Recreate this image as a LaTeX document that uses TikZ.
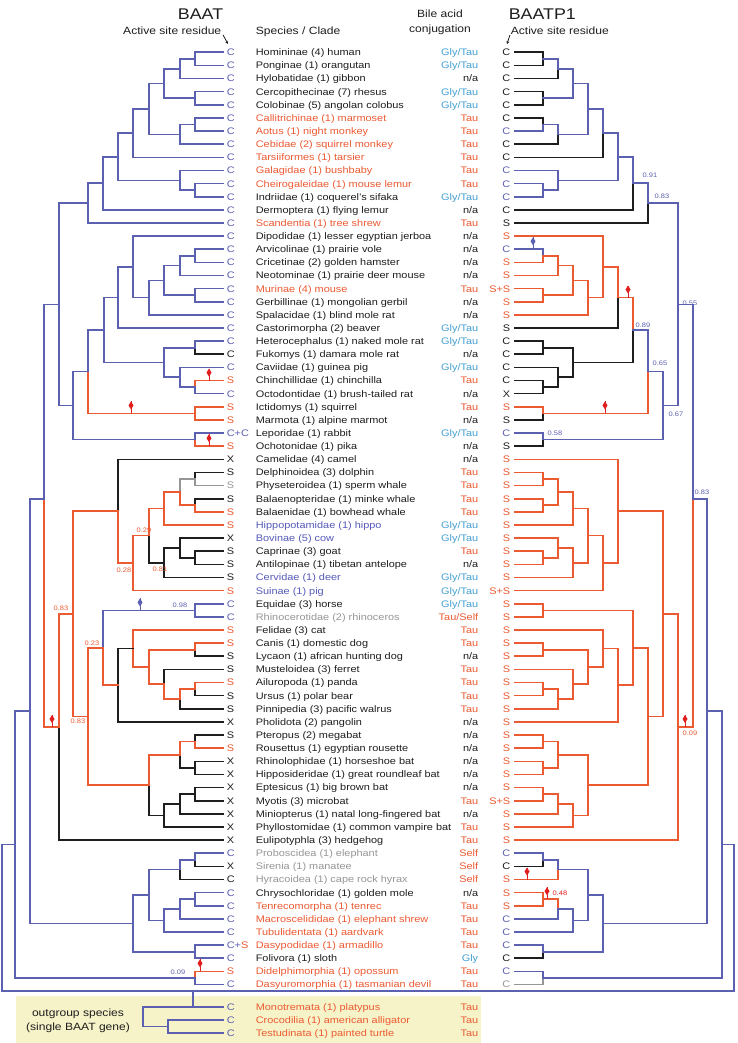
\documentclass[tikz,border=0pt]{standalone}
\usepackage{fontspec}
\setmainfont{Liberation Sans}[FakeStretch=1.15]
\usetikzlibrary{calc,arrows.meta}
\definecolor{bl}{RGB}{92,96,176}
\definecolor{og}{RGB}{236,90,50}
\definecolor{bk}{RGB}{30,30,30}
\definecolor{gy}{RGB}{150,150,150}
\definecolor{cy}{RGB}{70,160,210}
\definecolor{pu}{RGB}{85,90,185}
\definecolor{rd}{RGB}{225,30,30}
\definecolor{yb}{RGB}{246,243,200}
\newcommand\colB[1]{\textcolor{bl}{#1}}
\newcommand\colO[1]{\textcolor{og}{#1}}
\newcommand\colG[1]{\textcolor{gy}{#1}}
\newcommand\colY[1]{\textcolor{cy}{#1}}
\newcommand\colP[1]{\textcolor{pu}{#1}}
\newcommand\row[5]{%
\coordinate (L#1) at (223,{52.3+13.13*(#1-1)});
\coordinate (R#1) at (515,{52.3+13.13*(#1-1)});
\node[tx,anchor=base west] (lr#1) at (226,{55.7+13.13*(#1-1)}) {#2};
\node[tx,anchor=base west] (sp#1) at (255,{55.7+13.13*(#1-1)}) {#3};
\node[tx,anchor=base east] (ba#1) at (479,{55.7+13.13*(#1-1)}) {#4};
\node[tx,anchor=base east] (rr#1) at (511,{55.7+13.13*(#1-1)}) {#5};}
\newcommand\nd[6]{\path let \p1=(#3), \p2=(#5) in coordinate (#1) at (#2,{0.5*(\y1+\y2)});
\draw[#4] (#1) |- (#3); \draw[#6] (#1) |- (#5);}
\newcommand\ndy[7]{\coordinate (#1) at (#2,#3);
\draw[#5] (#1) |- (#4); \draw[#7] (#1) |- (#6);}
\newcommand\mk[3]{\fill[#1] ({#2},{#3-12}) -- ({#2+2.5},{#3-8}) -- ({#2},{#3-4}) -- ({#2-2.5},{#3-8}) -- cycle;
\draw[#1,line width=0.9pt,line cap=butt] ({#2},{#3-12}) -- ({#2},{#3});}
\begin{document}
\begin{tikzpicture}[x=1pt,y=-1pt,line width=1.6pt,line cap=rect,
 tx/.style={inner sep=0pt,text=bk,font=\fontsize{9.5}{11}\selectfont},
 hd/.style={inner sep=0pt,text=bk,font=\fontsize{10.5}{12}\selectfont},
 big/.style={inner sep=0pt,text=bk,font=\fontsize{15.5}{18}\selectfont},
 sup/.style={inner sep=0pt,font=\fontsize{6.5}{7}\selectfont}]
\fill[white] (0,0) rectangle (737,1043);
\useasboundingbox (0,0) rectangle (737,1043);
\fill[yb] (16,996) rectangle (481,1043);
% headers
\node[big,anchor=base east] (hBAAT) at (224,20) {BAAT};
\node[hd,anchor=base east] (hAct) at (222,35) {Active site residue};
\node[hd,anchor=base west] (hSp) at (255,35) {Species / Clade};
\node[hd,anchor=base] (hBile) at (440,18) {Bile acid};
\node[hd,anchor=base] (hConj) at (440,33) {conjugation};
\node[big,anchor=base west] (hP1) at (508,20) {BAATP1};
\node[hd,anchor=base west] (hAct2) at (510,35) {Active site residue};
\draw[bk,line width=0.8pt,line cap=butt,-{Stealth[length=3pt,width=3pt]}] (hAct.south east) ++(1,-1) -- (228,44);
\draw[bk,line width=0.8pt,line cap=butt,-{Stealth[length=3pt,width=3pt]}] (hAct2.south west) ++(0,-1) -- (507,44);
% rows
\row{1}{\colB{C}}{Homininae (4) human}{\colY{Gly/Tau}}{C}
\row{2}{\colB{C}}{Ponginae (1) orangutan}{\colY{Gly/Tau}}{C}
\row{3}{\colB{C}}{Hylobatidae (1) gibbon}{n/a}{C}
\row{4}{\colB{C}}{Cercopithecinae (7) rhesus}{\colY{Gly/Tau}}{C}
\row{5}{\colB{C}}{Colobinae (5) angolan colobus}{\colY{Gly/Tau}}{C}
\row{6}{\colB{C}}{\colO{Callitrichinae (1) marmoset}}{\colO{Tau}}{C}
\row{7}{\colB{C}}{\colO{Aotus (1) night monkey}}{\colO{Tau}}{\colB{C}}
\row{8}{\colB{C}}{\colO{Cebidae (2) squirrel monkey}}{\colO{Tau}}{C}
\row{9}{\colB{C}}{\colO{Tarsiiformes (1) tarsier}}{\colO{Tau}}{C}
\row{10}{\colB{C}}{\colO{Galagidae (1) bushbaby}}{\colO{Tau}}{\colB{C}}
\row{11}{\colB{C}}{\colO{Cheirogaleidae (1) mouse lemur}}{\colO{Tau}}{\colB{C}}
\row{12}{\colB{C}}{Indriidae (1) coquerel's sifaka}{\colY{Gly/Tau}}{\colB{C}}
\row{13}{\colB{C}}{Dermoptera (1) flying lemur}{n/a}{C}
\row{14}{\colB{C}}{\colO{Scandentia (1) tree shrew}}{\colO{Tau}}{S}
\row{15}{\colB{C}}{Dipodidae (1) lesser egyptian jerboa}{n/a}{\colO{S}}
\row{16}{\colB{C}}{Arvicolinae (1) prairie vole}{n/a}{\colB{C}}
\row{17}{\colB{C}}{Cricetinae (2) golden hamster}{n/a}{\colO{S}}
\row{18}{\colB{C}}{Neotominae (1) prairie deer mouse}{n/a}{\colO{S}}
\row{19}{\colB{C}}{\colO{Murinae (4) mouse}}{\colO{Tau}}{\colO{S+S}}
\row{20}{\colB{C}}{Gerbillinae (1) mongolian gerbil}{n/a}{\colO{S}}
\row{21}{\colB{C}}{Spalacidae (1) blind mole rat}{n/a}{\colO{S}}
\row{22}{\colB{C}}{Castorimorpha (2) beaver}{\colY{Gly/Tau}}{S}
\row{23}{\colB{C}}{Heterocephalus (1) naked mole rat}{\colY{Gly/Tau}}{C}
\row{24}{C}{Fukomys (1) damara mole rat}{n/a}{C}
\row{25}{\colB{C}}{Caviidae (1) guinea pig}{\colY{Gly/Tau}}{C}
\row{26}{\colO{S}}{Chinchillidae (1) chinchilla}{\colO{Tau}}{C}
\row{27}{\colB{C}}{Octodontidae (1) brush-tailed rat}{n/a}{X}
\row{28}{\colO{S}}{Ictidomys (1) squirrel}{\colO{Tau}}{\colO{S}}
\row{29}{\colO{S}}{Marmota (1) alpine marmot}{n/a}{S}
\row{30}{\colB{C+C}}{Leporidae (1) rabbit}{\colY{Gly/Tau}}{\colB{C}}
\row{31}{\colO{S}}{Ochotonidae (1) pika}{n/a}{S}
\row{32}{X}{Camelidae (4) camel}{n/a}{\colO{S}}
\row{33}{S}{Delphinoidea (3) dolphin}{\colO{Tau}}{\colO{S}}
\row{34}{\colG{S}}{Physeteroidea (1) sperm whale}{\colO{Tau}}{\colO{S}}
\row{35}{S}{Balaenopteridae (1) minke whale}{\colO{Tau}}{\colO{S}}
\row{36}{\colO{S}}{Balaenidae (1) bowhead whale}{\colO{Tau}}{\colO{S}}
\row{37}{\colO{S}}{\colP{Hippopotamidae (1) hippo}}{\colY{Gly/Tau}}{\colO{S}}
\row{38}{X}{\colP{Bovinae (5) cow}}{\colY{Gly/Tau}}{\colO{S}}
\row{39}{S}{Caprinae (3) goat}{\colO{Tau}}{\colO{S}}
\row{40}{S}{Antilopinae (1) tibetan antelope}{n/a}{\colO{S}}
\row{41}{S}{\colP{Cervidae (1) deer}}{\colY{Gly/Tau}}{\colO{S}}
\row{42}{\colO{S}}{\colP{Suinae (1) pig}}{\colY{Gly/Tau}}{\colO{S+S}}
\row{43}{\colB{C}}{Equidae (3) horse}{\colY{Gly/Tau}}{\colO{S}}
\row{44}{\colB{C}}{\colG{Rhinocerotidae (2) rhinoceros}}{\colO{Tau/Self}}{\colO{S}}
\row{45}{\colO{S}}{Felidae (3) cat}{\colO{Tau}}{\colO{S}}
\row{46}{\colO{S}}{Canis (1) domestic dog}{\colO{Tau}}{\colO{S}}
\row{47}{S}{Lycaon (1) african hunting dog}{n/a}{\colO{S}}
\row{48}{S}{Musteloidea (3) ferret}{\colO{Tau}}{\colO{S}}
\row{49}{\colO{S}}{Ailuropoda (1) panda}{\colO{Tau}}{\colO{S}}
\row{50}{S}{Ursus (1) polar bear}{\colO{Tau}}{\colO{S}}
\row{51}{S}{Pinnipedia (3) pacific walrus}{\colO{Tau}}{\colO{S}}
\row{52}{X}{Pholidota (2) pangolin}{n/a}{\colO{S}}
\row{53}{S}{Pteropus (2) megabat}{n/a}{\colO{S}}
\row{54}{\colO{S}}{Rousettus (1) egyptian rousette}{n/a}{\colO{S}}
\row{55}{X}{Rhinolophidae (1) horseshoe bat}{n/a}{\colO{S}}
\row{56}{X}{Hipposideridae (1) great roundleaf bat}{n/a}{\colO{S}}
\row{57}{X}{Eptesicus (1) big brown bat}{n/a}{\colO{S}}
\row{58}{X}{Myotis (3) microbat}{\colO{Tau}}{\colO{S+S}}
\row{59}{X}{Miniopterus (1) natal long-fingered bat}{n/a}{\colO{S}}
\row{60}{X}{Phyllostomidae (1) common vampire bat}{\colO{Tau}}{\colO{S}}
\row{61}{X}{Eulipotyphla (3) hedgehog}{\colO{Tau}}{\colO{S}}
\row{62}{\colB{C}}{\colG{Proboscidea (1) elephant}}{\colO{Self}}{\colB{C}}
\row{63}{X}{\colG{Sirenia (1) manatee}}{\colO{Self}}{C}
\row{64}{C}{\colG{Hyracoidea (1) cape rock hyrax}}{\colO{Self}}{\colO{S}}
\row{65}{\colB{C}}{Chrysochloridae (1) golden mole}{n/a}{\colO{S}}
\row{66}{\colB{C}}{\colO{Tenrecomorpha (1) tenrec}}{\colO{Tau}}{\colO{S}}
\row{67}{\colB{C}}{\colO{Macroscelididae (1) elephant shrew}}{\colO{Tau}}{\colB{C}}
\row{68}{\colB{C}}{\colO{Tubulidentata (1) aardvark}}{\colO{Tau}}{\colB{C}}
\row{69}{\colB{C+}\colO{S}}{\colO{Dasypodidae (1) armadillo}}{\colO{Tau}}{\colB{C}}
\row{70}{\colB{C}}{Folivora (1) sloth}{\colY{Gly}}{C}
\row{71}{\colO{S}}{\colO{Didelphimorphia (1) opossum}}{\colO{Tau}}{\colB{C}}
\row{72}{\colB{C}}{\colO{Dasyuromorphia (1) tasmanian devil}}{\colO{Tau}}{\colG{C}}
% outgroup rows
\coordinate (O1) at (223,1007); \coordinate (O2) at (223,1020); \coordinate (O3) at (223,1033);
\node[tx,anchor=base west] (olr1) at (226,1010.4) {\colB{C}};
\node[tx,anchor=base west] (olr2) at (226,1023.4) {\colB{C}};
\node[tx,anchor=base west] (olr3) at (226,1036.4) {\colB{C}};
\node[tx,anchor=base west] (osp1) at (255,1010.4) {\colO{Monotremata (1) platypus}};
\node[tx,anchor=base west] (osp2) at (255,1023.4) {\colO{Crocodilia (1) american alligator}};
\node[tx,anchor=base west] (osp3) at (255,1036.4) {\colO{Testudinata (1) painted turtle}};
\node[tx,anchor=base east] (oba1) at (479,1010.4) {\colO{Tau}};
\node[tx,anchor=base east] (oba2) at (479,1023.4) {\colO{Tau}};
\node[tx,anchor=base east] (oba3) at (479,1036.4) {\colO{Tau}};
\node[hd,anchor=base] (ogt1) at (78,1016) {outgroup species};
\node[hd,anchor=base] (ogt2) at (78,1030) {(single BAAT gene)};
% ---------- left tree (BAAT)
\nd{p12}{195}{L1}{bl}{L2}{bl}
\nd{p123}{180}{p12}{bl}{L3}{bl}
\nd{p45}{195}{L4}{bl}{L5}{bl}
\nd{pCat}{164}{p123}{bl}{p45}{bl}
\nd{p67}{195}{L6}{bl}{L7}{bl}
\nd{p678}{180}{p67}{bl}{L8}{bl}
\nd{pAnth}{149}{pCat}{bl}{p678}{bl}
\nd{pHap}{133}{pAnth}{bl}{L9}{bl}
\nd{p1112}{195}{L11}{bl}{L12}{bl}
\nd{pStr}{180}{L10}{bl}{p1112}{bl}
\nd{pPri}{118}{pHap}{bl}{pStr}{bl}
\nd{pPD}{103}{pPri}{bl}{L13}{bl}
\nd{pEua}{88}{pPD}{bl}{L14}{bl}
\nd{r1617}{195}{L16}{bl}{L17}{bl}
\nd{r18}{180}{r1617}{bl}{L18}{bl}
\nd{r1920}{195}{L19}{bl}{L20}{bl}
\nd{r1620}{164}{r18}{bl}{r1920}{bl}
\nd{r21}{149}{r1620}{bl}{L21}{bl}
\nd{r15}{133}{L15}{bl}{r21}{bl}
\nd{r22}{118}{r15}{bl}{L22}{bl}
\nd{r2324}{195}{L23}{bl}{L24}{bk}
\nd{r2627}{195}{L26}{og}{L27}{bl}
\nd{r25}{180}{L25}{bl}{r2627}{bl}
\nd{r2327}{164}{r2324}{bl}{r25}{bl}
\nd{rMur}{104}{r22}{bl}{r2327}{bl}
\nd{r2829}{195}{L28}{og}{L29}{og}
\nd{rRod}{88}{rMur}{bl}{r2829}{og}
\nd{r3031}{195}{L30}{bl}{L31}{og}
\nd{pGli}{73}{rRod}{bl}{r3031}{bl}
\nd{pEuA}{59}{pEua}{bl}{pGli}{bl}
\nd{l3334}{195}{L33}{bk}{L34}{gy}
\nd{l3536}{195}{L35}{bk}{L36}{og}
\nd{l3336}{180}{l3334}{gy}{l3536}{og}
\nd{l3637}{164}{l3336}{og}{L37}{og}
\nd{l3940}{195}{L39}{bk}{L40}{bk}
\nd{l3840}{180}{L38}{bk}{l3940}{bk}
\nd{l3841}{164}{l3840}{bk}{L41}{bk}
\nd{l3341}{149}{l3637}{og}{l3841}{bk}
\nd{l3342}{133}{l3341}{og}{L42}{og}
\nd{l3242}{118}{L32}{bk}{l3342}{og}
\nd{l4344}{195}{L43}{bl}{L44}{bl}
\nd{l4647}{195}{L46}{og}{L47}{bk}
\nd{l4950}{195}{L49}{og}{L50}{bk}
\nd{l4951}{180}{l4950}{og}{L51}{bk}
\nd{l4851}{164}{L48}{bk}{l4951}{og}
\nd{l4651}{149}{l4647}{og}{l4851}{og}
\nd{l4551}{133}{L45}{og}{l4651}{og}
\nd{l4552}{118}{l4551}{bk}{L52}{bk}
\nd{lPF}{103}{l4344}{bl}{l4552}{og}
\nd{l5354}{195}{L53}{bk}{L54}{og}
\nd{l5556}{195}{L55}{bk}{L56}{bk}
\nd{l5356}{180}{l5354}{og}{l5556}{bk}
\nd{l5758}{195}{L57}{bk}{L58}{bk}
\nd{l5759}{180}{l5758}{bk}{L59}{bk}
\nd{l5760}{164}{l5759}{bk}{L60}{bk}
\nd{lChi}{149}{l5356}{og}{l5760}{bk}
\nd{lScr}{88}{lPF}{og}{lChi}{og}
\nd{lLc}{73}{l3242}{og}{lScr}{og}
\nd{lLau}{59}{lLc}{og}{L61}{bk}
\ndy{lBor}{44}{499}{pEuA}{bl}{lLau}{og}
\nd{a6263}{195}{L62}{bl}{L63}{bk}
\nd{a6264}{180}{a6263}{bl}{L64}{bk}
\nd{a6566}{195}{L65}{bl}{L66}{bl}
\nd{a6567}{180}{a6566}{bl}{L67}{bl}
\nd{a6568}{164}{a6567}{bl}{L68}{bl}
\nd{aAfr}{149}{a6264}{bl}{a6568}{bl}
\nd{a6970}{195}{L69}{bl}{L70}{bl}
\nd{aAtl}{133}{aAfr}{bl}{a6970}{bl}
\nd{lEut}{30}{lBor}{bl}{aAtl}{bl}
\nd{m7172}{195}{L71}{og}{L72}{bl}
\nd{lThe}{15}{lEut}{bl}{m7172}{bl}
% ---------- right tree (BAATP1)
\nd{q12}{543}{R1}{bk}{R2}{bk}
\nd{q123}{558}{q12}{bl}{R3}{bk}
\nd{q45}{543}{R4}{bk}{R5}{bk}
\nd{qCat}{573}{q123}{bl}{q45}{bl}
\nd{q67}{543}{R6}{bk}{R7}{bl}
\nd{q678}{558}{q67}{bl}{R8}{bk}
\nd{qAnth}{588}{qCat}{bl}{q678}{bl}
\nd{qHap}{603}{qAnth}{bl}{R9}{bk}
\nd{q1112}{543}{R11}{bl}{R12}{bl}
\nd{qStr}{558}{R10}{bl}{q1112}{bl}
\nd{qPri}{618}{qHap}{bl}{qStr}{bl}
\nd{qPD}{633}{qPri}{bl}{R13}{bk}
\nd{qEua}{648}{qPD}{bl}{R14}{bk}
\nd{s1617}{543}{R16}{bl}{R17}{og}
\nd{s18}{558}{s1617}{og}{R18}{og}
\nd{s1920}{543}{R19}{og}{R20}{og}
\nd{s1620}{573}{s18}{og}{s1920}{og}
\nd{s21}{588}{s1620}{og}{R21}{og}
\nd{s15}{603}{R15}{og}{s21}{og}
\nd{s22}{618}{s15}{og}{R22}{bk}
\nd{s2324}{543}{R23}{bk}{R24}{bk}
\nd{s2627}{543}{R26}{bk}{R27}{bk}
\nd{s25}{558}{R25}{bk}{s2627}{bk}
\nd{s2327}{573}{s2324}{bk}{s25}{bk}
\nd{sMur}{633}{s22}{og}{s2327}{bk}
\nd{s2829}{543}{R28}{og}{R29}{bk}
\nd{sRod}{648}{sMur}{bl}{s2829}{og}
\nd{s3031}{543}{R30}{bl}{R31}{bk}
\nd{sGli}{663}{sRod}{bl}{s3031}{bl}
\nd{sEuA}{678}{qEua}{bl}{sGli}{bl}
\nd{t3334}{543}{R33}{og}{R34}{og}
\nd{t3536}{543}{R35}{og}{R36}{og}
\nd{t3336}{558}{t3334}{og}{t3536}{og}
\nd{t3637}{573}{t3336}{og}{R37}{og}
\nd{t3940}{543}{R39}{og}{R40}{og}
\nd{t3840}{558}{R38}{og}{t3940}{og}
\nd{t3841}{573}{t3840}{og}{R41}{og}
\nd{t3341}{588}{t3637}{og}{t3841}{og}
\nd{t3342}{603}{t3341}{og}{R42}{og}
\nd{t3242}{618}{R32}{og}{t3342}{og}
\nd{t4344}{543}{R43}{og}{R44}{og}
\nd{t4647}{543}{R46}{og}{R47}{og}
\nd{t4950}{543}{R49}{og}{R50}{og}
\nd{t4951}{558}{t4950}{og}{R51}{og}
\nd{t4851}{573}{R48}{og}{t4951}{og}
\nd{t4651}{588}{t4647}{og}{t4851}{og}
\nd{t4551}{603}{R45}{og}{t4651}{og}
\nd{t4552}{618}{t4551}{og}{R52}{og}
\nd{tPF}{633}{t4344}{og}{t4552}{og}
\nd{t5354}{543}{R53}{og}{R54}{og}
\nd{t5556}{543}{R55}{og}{R56}{og}
\nd{t5356}{558}{t5354}{og}{t5556}{og}
\nd{t5758}{543}{R57}{og}{R58}{og}
\nd{t5759}{558}{t5758}{og}{R59}{og}
\nd{t5760}{573}{t5759}{og}{R60}{og}
\nd{tChi}{588}{t5356}{og}{t5760}{og}
\nd{tScr}{648}{tPF}{og}{tChi}{og}
\nd{tLc}{663}{t3242}{og}{tScr}{og}
\nd{tLau}{678}{tLc}{og}{R61}{og}
\ndy{tBor}{693}{499}{sEuA}{bl}{tLau}{og}
\nd{u6263}{543}{R62}{bl}{R63}{bk}
\nd{u6264}{558}{u6263}{bl}{R64}{og}
\nd{u6566}{543}{R65}{og}{R66}{og}
\nd{u6567}{558}{u6566}{og}{R67}{bl}
\nd{u6568}{573}{u6567}{bl}{R68}{bl}
\nd{uAfr}{588}{u6264}{bl}{u6568}{bl}
\nd{u6970}{543}{R69}{bl}{R70}{bk}
\nd{uAtl}{603}{uAfr}{bl}{u6970}{bl}
\nd{tEut}{707}{tBor}{bl}{uAtl}{bl}
\nd{n7172}{543}{R71}{bl}{R72}{gy}
\nd{tThe}{722}{tEut}{bl}{n7172}{bl}
% root and outgroup
\coordinate (rl) at (2,991); \coordinate (rr) at (734,991);
\draw[bl] (lThe) -| (rl) -- (rr) |- (tThe);
\nd{o23}{168}{O2}{bl}{O3}{bl}
\nd{o13}{143}{O1}{bl}{o23}{bl}
\coordinate (rj) at (193,991); \coordinate (oj) at (193,1007);
\draw[bl] (rj) -- (oj);
% markers
\mk{rd}{209}{380.6}
\mk{rd}{131}{413.4}
\mk{rd}{209}{446.2}
\mk{rd}{52}{727}
\mk{rd}{200}{971.3}
\mk{bl}{140}{610.4}
\mk{bl}{533}{249.3}
\mk{rd}{628}{297.5}
\mk{rd}{605}{413.4}
\mk{rd}{685}{727}
\mk{rd}{527}{879.5}
\mk{rd}{547}{899.2}
% support values
\node[sup,text=og] (v1) at (144,530) {0.29};
\node[sup,text=og] (v2) at (124,570) {0.28};
\node[sup,text=og] (v3) at (160,569) {0.81};
\node[sup,text=bl] (v4) at (180,605) {0.98};
\node[sup,text=og] (v5) at (92,643) {0.23};
\node[sup,text=og] (v6) at (61,608) {0.83};
\node[sup,text=og] (v7) at (78,721) {0.83};
\node[sup,text=bl] (v8) at (178,972) {0.09};
\node[sup,text=bl] (w1) at (650,175) {0.91};
\node[sup,text=bl] (w2) at (662,196) {0.83};
\node[sup,text=bl] (w3) at (690,303) {0.55};
\node[sup,text=bl] (w4) at (643,325) {0.89};
\node[sup,text=bl] (w5) at (660,363) {0.65};
\node[sup,text=bl] (w6) at (676,414) {0.67};
\node[sup,text=bl] (w7) at (555,433) {0.58};
\node[sup,text=bl] (w8) at (702,492) {0.83};
\node[sup,text=og] (w9) at (690,733) {0.09};
\node[sup,text=rd] (w10) at (560,893) {0.48};
\end{tikzpicture}
\end{document}
